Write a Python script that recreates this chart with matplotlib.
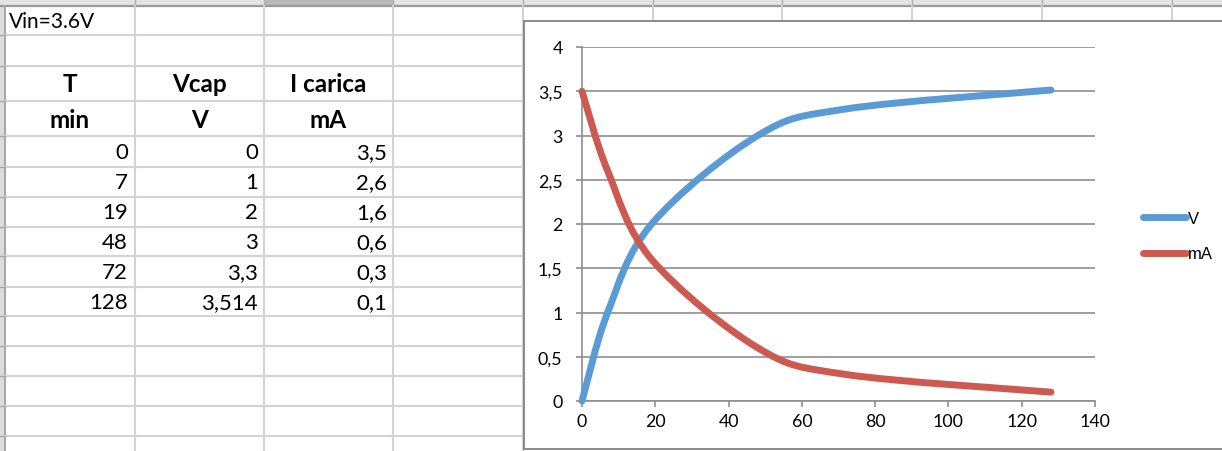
import matplotlib.pyplot as plt
from matplotlib.path import Path
from matplotlib.patches import PathPatch, Rectangle
from matplotlib.lines import Line2D
from matplotlib.ticker import FuncFormatter, MultipleLocator

# dati della tabella
tempo_min = [0, 7, 19, 48, 72, 128]
vcap_v = [0, 1, 2, 3, 3.3, 3.514]
icarica_ma = [3.5, 2.6, 1.6, 0.6, 0.3, 0.1]
intestazioni = [("T", "min"), ("Vcap", "V"), ("I carica", "mA")]
nota = "Vin=3.6V"
serie_nomi = ["V", "mA"]

BLU = '#5b9bd5'
ROSSO = '#cd5a50'
GRIGIO_ASSE = '#8e8e8e'
GRIGIO_CELLA = '#d3d3d3'
FONT = ['Lato', 'DejaVu Sans']

W, H = 1222, 452
fig = plt.figure(figsize=(W / 100, H / 100), dpi=100)

# --- foglio di calcolo (coordinate in pixel) ---
bg = fig.add_axes([0, 0, 1, 1])
bg.set_xlim(0, W)
bg.set_ylim(H, 0)
bg.axis('off')

col_x = [5, 135, 264, 393, 523, 653, 782, 912, 1042, 1172]
righe_y = [7, 36, 67, 102, 137, 168, 198, 228, 257, 288, 317, 347, 377, 407, 437]
chart_x0, chart_y0 = 524, 22

# intestazione colonne
bg.add_patch(Rectangle((0, 0), W, 7, color='#e4e4e4', lw=0))
bg.add_patch(Rectangle((264, 0), 129, 7, color='#b9b9b9', lw=0))
for x in col_x[1:]:
    bg.plot([x, x], [0, 7], color='#b0b0b0', lw=1)
bg.plot([0, W], [7, 7], color='#9a9a9a', lw=1.6)
# intestazione righe
bg.add_patch(Rectangle((0, 7), 4, H - 7, color='#dcdcdc', lw=0))
bg.plot([5, 5], [7, H], color='#a5a5a5', lw=1.4)

# griglia celle
for x in col_x[1:]:
    y_end = H if x < chart_x0 else chart_y0
    bg.plot([x, x], [7, y_end], color=GRIGIO_CELLA, lw=1.5)
for y in righe_y[1:]:
    bg.plot([5, chart_x0], [y, y], color=GRIGIO_CELLA, lw=1.5)
    bg.plot([0, 5], [y, y], color='#a5a5a5', lw=1)


def fmt_num(v):
    s = f"{v:g}"
    return s.replace('.', ',')


bg.text(9, 22, nota, fontsize=15, family=FONT, va='center', ha='left')
centri_col = [(col_x[i] + col_x[i + 1]) / 2 for i in range(3)]
for i, (h1, h2) in enumerate(intestazioni):
    bg.text(centri_col[i], 85, h1, fontsize=17.5, family=FONT, weight='bold', ha='center', va='center')
    bg.text(centri_col[i], 120, h2, fontsize=17.5, family=FONT, weight='bold', ha='center', va='center')

destra_col = [128, 258, 387]
for r, valori in enumerate(zip(tempo_min, vcap_v, icarica_ma)):
    yc = (righe_y[4 + r] + righe_y[5 + r]) / 2 + 0.5
    for c, v in enumerate(valori):
        bg.text(destra_col[c], yc, fmt_num(v), fontsize=16, family=FONT, ha='right', va='center')

# riquadro del grafico
bg.add_patch(Rectangle((chart_x0, chart_y0), W, 450 - chart_y0, facecolor='white',
                       edgecolor='#8a8a8a', lw=1.4, zorder=3))

# --- grafico ---
ax = fig.add_axes([582 / W, (H - 402) / H, 513 / W, 354 / H])
ax.set_facecolor('none')
ax.set_xlim(0, 140)
ax.set_ylim(0, 4)
ax.xaxis.set_major_locator(MultipleLocator(20))
ax.yaxis.set_major_locator(MultipleLocator(0.5))
ax.yaxis.set_major_formatter(FuncFormatter(lambda v, p: fmt_num(round(v, 2))))
ax.grid(axis='y', color=GRIGIO_ASSE, lw=1.2)
ax.set_axisbelow(True)
for s in ['top', 'right']:
    ax.spines[s].set_visible(False)
for s in ['left', 'bottom']:
    ax.spines[s].set_color(GRIGIO_ASSE)
    ax.spines[s].set_linewidth(1.2)
ax.tick_params(axis='both', colors=GRIGIO_ASSE, labelcolor='black', length=4, width=1.2,
               labelsize=12.8)
ax.tick_params(axis='y', pad=10)
ax.tick_params(axis='x', pad=5)
for lab in ax.get_xticklabels() + ax.get_yticklabels():
    lab.set_family(FONT)


def curva_liscia(xs, ys):
    # curva di Bezier tipo "linea smussata" di Excel
    pts = list(zip(xs, ys))
    n = len(pts)
    verts = [pts[0]]
    codes = [Path.MOVETO]
    for i in range(n - 1):
        p0 = pts[max(i - 1, 0)]
        p1 = pts[i]
        p2 = pts[i + 1]
        p3 = pts[min(i + 2, n - 1)]
        c1 = (p1[0] + (p2[0] - p0[0]) / 6, p1[1] + (p2[1] - p0[1]) / 6)
        c2 = (p2[0] - (p3[0] - p1[0]) / 6, p2[1] - (p3[1] - p1[1]) / 6)
        verts += [c1, c2, p2]
        codes += [Path.CURVE4] * 3
    return Path(verts, codes)


for ys, col in [(vcap_v, BLU), (icarica_ma, ROSSO)]:
    patch = PathPatch(curva_liscia(tempo_min, ys), fill=False, edgecolor=col, lw=5,
                      capstyle='round', joinstyle='round', clip_on=False, zorder=4)
    ax.add_patch(patch)

handles = [Line2D([], [], color=c, lw=5, solid_capstyle='round') for c in (BLU, ROSSO)]
leg = ax.legend(handles, serie_nomi, loc='center left', bbox_to_anchor=(1143, 237),
                bbox_transform=bg.transData, frameon=False, borderpad=0, borderaxespad=0,
                handlelength=2.6, handletextpad=0.1, labelspacing=1.25,
                prop={'family': ['Liberation Sans', 'DejaVu Sans'], 'size': 12})

fig.savefig('out.png', dpi=100)
